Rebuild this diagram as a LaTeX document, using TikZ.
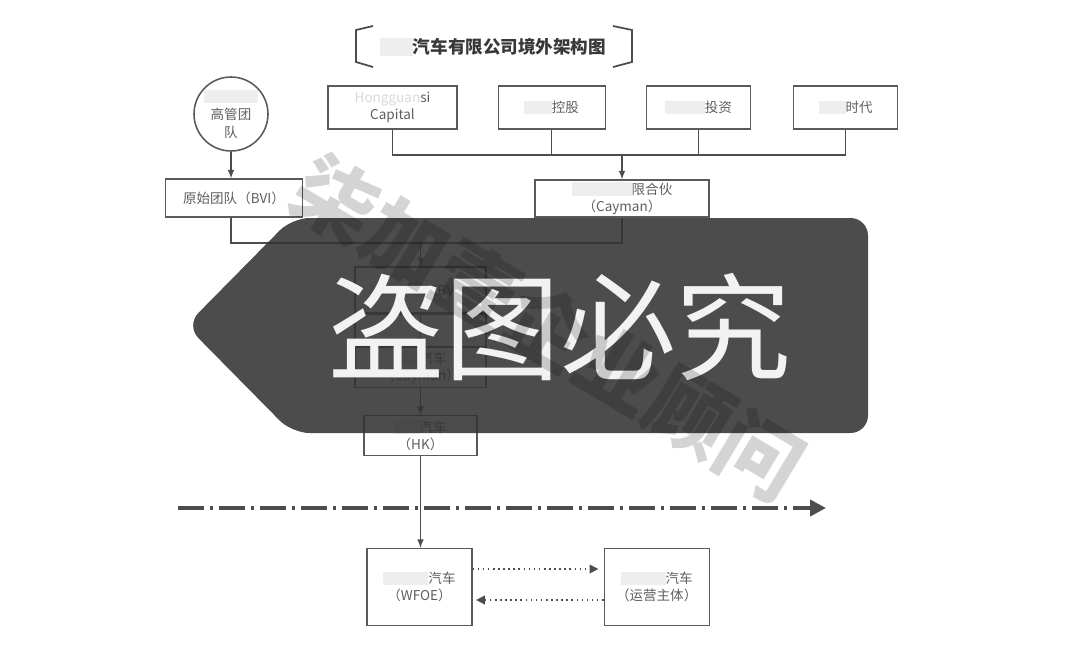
\documentclass[tikz,border=0pt]{standalone}
\usepackage{fontspec}
\setmainfont{Noto Sans CJK SC}
\usepackage{tikz}
\usetikzlibrary{positioning, arrows, arrows.meta, calc}

\definecolor{linegray}{HTML}{4D4D4D}
\definecolor{boxgray}{HTML}{5A5A5A}
\definecolor{txtgray}{HTML}{5E5E5E}
\definecolor{smudgegray}{HTML}{EEEEEE}
\definecolor{bannergray}{HTML}{333333}
\newcommand{\smudge}[1]{\textcolor{smudgegray}{\rule[-0.12em]{#1}{1em}}}

\begin{document}
\begin{tikzpicture}[x=0.02cm, y=-0.02cm,
		        box/.style={draw=boxgray, line width=0.7pt, rectangle, align=center, inner sep=1pt, text=txtgray, font=\fontsize{7.7}{9.8}\selectfont},
		        team/.style={draw=boxgray, line width=0.9pt, circle, minimum size=1.48cm, align=center, inner sep=0pt, text=txtgray, font=\fontsize{7.7}{10.2}\selectfont},
		        link/.style={draw=linegray, line width=0.7pt},
		        dotarrow/.style={draw=linegray, line width=0.9pt, dotted, -{Triangle[length=5pt, width=5pt]}},
		        border/.style={draw=linegray, line width=2.2pt, dash pattern=on 0.52cm off 0.12cm on 0.06cm off 0.12cm, -{Triangle[length=9pt, width=9pt]}},
		        node distance=0.8cm, >=latex]
		        \useasboundingbox (0,0) rectangle (1087,659);

		        % Título
		        \node (title) [font=\bfseries\fontsize{10}{12}\selectfont, text=black!78] at (493,47) {\smudge{0.66cm}汽车有限公司境外架构图};
		        \draw[link, line width=1pt] (373,26) -- (356,30) -- (356,62) -- (373,67);
		        \draw[link, line width=1pt] (613,26) -- (632,30) -- (632,62) -- (613,67);

		        % Nós do topo
		        \node (team) [team] at (231,114) {\smudge{1.1cm}\\高管团\\队};
		        \node (cap) [box, minimum width=2.58cm, minimum height=0.86cm] at (392.5,107.5) {\textcolor{gray!30}{Hongguan}si\\Capital};
		        \node (ctrl) [box, minimum width=2.14cm, minimum height=0.86cm, right=of cap] {\smudge{0.55cm}控股};
		        \node (inv) [box, minimum width=2.08cm, minimum height=0.86cm, right=of ctrl] {\smudge{0.8cm}投资};
		        \node (era) [box, minimum width=2.08cm, minimum height=0.86cm, right=0.84cm of inv] {\smudge{0.54cm}时代};

		        % Nós do meio
		        \node (bvi) [box, minimum width=2.74cm, minimum height=0.76cm] at (234,198) {原始团队（BVI）};
		        \node (lp) [box, minimum width=3.48cm, minimum height=0.74cm] at (622,198.5) {\smudge{1.2cm}限合伙\\（Cayman）};
		        \node (bvi2) [box, minimum width=2.62cm, minimum height=0.92cm] at (420.5,290) {\smudge{1.1cm}（BVI）};
		        \node (mid) [box, minimum width=2.62cm, minimum height=0.64cm, below=0pt of bvi2] {};
		        \node (cay2) [box, minimum width=2.62cm, minimum height=0.8cm, below=0pt of mid] {\smudge{0.5cm}汽车\\（Cayman）};
		        \node (hk) [box, minimum width=2.26cm, minimum height=0.8cm, below=0.54cm of cay2] {\smudge{0.5cm}汽车\\（HK）};

		        % Nós de baixo
		        \node (wfoe) [box, minimum width=2.1cm, minimum height=1.54cm] at (419.5,587) {\smudge{0.9cm}汽车\\（WFOE）};
		        \node (op) [box, minimum width=2.1cm, minimum height=1.54cm, right=2.62cm of wfoe] {\smudge{0.9cm}汽车\\（运营主体）};

		        % Conexões
		        \coordinate (j) at (622,155);
		        \coordinate (k) at (622,243);
		        \draw[link, ->] (team.south) -- (team.south |- bvi.north);
		        \draw[link] (cap.south) |- (j) -| (era.south);
		        \draw[link] (ctrl.south) -- (ctrl.south |- j);
		        \draw[link] (inv.south) -- (inv.south |- j);
		        \draw[link, ->] (j) -- (lp.north);
		        \draw[link] (team.south |- bvi.south) |- (k) -- (lp.south);
		        \draw[link, ->] (bvi2.north |- k) -- (bvi2.north);
		        \draw[link, ->] (bvi2.south) -- (cay2.north);
		        \draw[link, ->] (cay2) -- (hk);
		        \draw[link, ->] (hk.south) -- (hk.south |- wfoe.north);
		        \draw[dotarrow] ([yshift=0.36cm]wfoe.east) -- ([yshift=0.36cm, xshift=-3pt]op.west);
		        \draw[dotarrow] ([yshift=-0.26cm]op.west) -- ([yshift=-0.26cm, xshift=2pt]wfoe.east);

		        % Linha de fronteira
		        \coordinate (ls) at (178,508);
		        \coordinate (le) at (826,508);
		        \draw[border] (ls) -- (le);

		        % Faixa e marca d'água
		        \fill[bannergray, fill opacity=0.88, rounded corners=0.35cm] (292,218) -- (868,218) -- (868,433) -- (292,433) -- (186,325.5) -- cycle;
		        \node (stamp) [text=black!5, font=\fontsize{66}{66}\selectfont, inner sep=0pt] at (560,327) {盗图必究};
		        \node (mark) [rotate=-31, text=black, text opacity=0.17, font=\bfseries\fontsize{47}{47}\selectfont] at (548,328) {柒加壹企业顾问};
		    \end{tikzpicture}
\end{document}
